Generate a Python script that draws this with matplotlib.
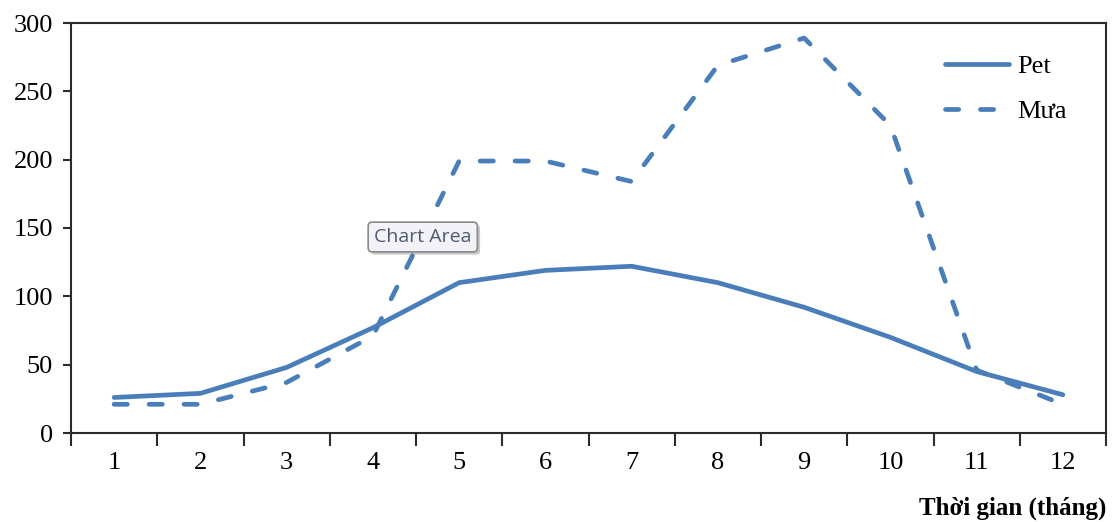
import matplotlib
matplotlib.use("Agg")
import matplotlib.pyplot as plt
import matplotlib.patheffects as pe

# data
months = [1, 2, 3, 4, 5, 6, 7, 8, 9, 10, 11, 12]
pet = [26, 29, 48, 77, 110, 119, 122, 110, 92, 70, 45, 28]
mua = [21, 21, 37, 71, 199, 199, 184, 269, 289, 225, 46, 21]
y_ticks = [0, 50, 100, 150, 200, 250, 300]
x_label = "Thời gian (tháng)"

blue = "#4a7ebb"
dark = "#2b2b2b"

plt.rcParams["font.family"] = ["Liberation Serif", "DejaVu Serif"]

fig = plt.figure(figsize=(11.12, 5.22), dpi=100)
ax = fig.add_axes([71 / 1112, 1 - 433 / 522, (1106 - 71) / 1112, (433 - 23) / 522])

ax.plot(months, pet, color=blue, lw=3.4, solid_capstyle="round",
        solid_joinstyle="round", label="Pet")
ln, = ax.plot(months, mua, color=blue, lw=3.4, dash_capstyle="round",
              label="Mưa")
ln.set_dashes([2.8, 4.6])

ax.set_xlim(0.5, 12.5)
ax.set_ylim(0, 300)
ax.set_yticks(y_ticks)
ax.set_xticks(months)
ax.set_xticks([m - 0.5 for m in months] + [12.5], minor=True)
ax.tick_params(axis="x", which="major", length=0, pad=14, labelsize=19)
ax.tick_params(axis="x", which="minor", length=9, width=1.5, color=dark,
               direction="out")
ax.tick_params(axis="y", length=6, width=1.5, color=dark, direction="out",
               pad=7, labelsize=19)
for s in ax.spines.values():
    s.set_color(dark)
    s.set_linewidth(1.5)

leg = ax.legend(loc="upper right", bbox_to_anchor=(0.985, 0.98), frameon=False,
                fontsize=19, handlelength=2.45, handletextpad=0.3,
                labelspacing=0.8)

fig.text(1106 / 1112, 1 - 508 / 522, x_label, ha="right", va="center",
         fontsize=18, fontweight="bold")

# Excel hover tooltip visible in the screenshot
fig.text(374 / 1112, 1 - 237 / 522, "Chart Area", ha="left", va="center",
         fontsize=14, color="#4d5a6e", family=["Open Sans", "DejaVu Sans"],
         bbox=dict(boxstyle="round,pad=0.3,rounding_size=0.2",
                   facecolor="#f2f2f8", edgecolor="#8a8a8a", lw=1.2,
                   path_effects=[pe.withSimplePatchShadow(offset=(2, -2),
                                                          alpha=0.3)]))

fig.savefig("out.png", dpi=100)
